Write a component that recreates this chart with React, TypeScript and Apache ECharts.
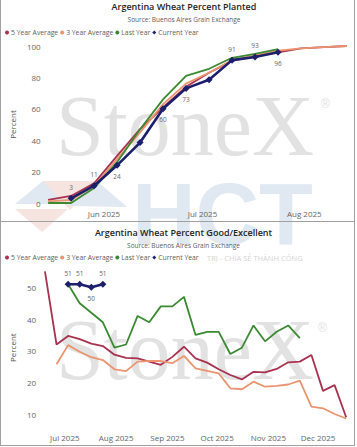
import React, { useEffect, useRef } from "react";
import * as echarts from "echarts";

// ---------- Data: Percent Planted ----------
const plantedWeeks = [
  "2025-05-15", "2025-05-22", "2025-05-29", "2025-06-05", "2025-06-12", "2025-06-19", "2025-06-26",
  "2025-07-03", "2025-07-10", "2025-07-17", "2025-07-24", "2025-07-31", "2025-08-07", "2025-08-14",
];
const planted5yr = [2, 4.5, 12.5, 30, 47, 61, 74, 83, 90.5, 93.5, 96, 98.5, 99.3, 100];
const planted3yr = [1, 2, 11, 28, 45, 63, 76, 83, 91, 94, 97, 98.5, 99.3, 100];
const plantedLast = [0, 0, 9.5, 26, 47, 66, 81, 85.5, 92.5, 95, 98];
const plantedCurrent = [null, 3, 11, 24, 38.5, 60, 73, 78.5, 91, 93, 96];
const plantedTicks = [0, 20, 40, 60, 80, 100];
const plantedMonths = ["2025-06-01", "2025-07-01", "2025-08-01"];

// ---------- Data: Percent Good/Excellent ----------
const conditionWeeks = [
  "2025-06-19", "2025-06-26", "2025-07-03", "2025-07-10", "2025-07-17", "2025-07-24", "2025-07-31",
  "2025-08-07", "2025-08-14", "2025-08-21", "2025-08-28", "2025-09-04", "2025-09-11", "2025-09-18",
  "2025-09-25", "2025-10-02", "2025-10-09", "2025-10-16", "2025-10-23", "2025-10-30", "2025-11-06",
  "2025-11-13", "2025-11-20", "2025-11-27", "2025-12-04", "2025-12-11", "2025-12-18",
];
const condition5yr = [55, 32, 34.7, 33.7, 32.3, 31.5, 28.8, 27.8, 27.6, 26.6, 25.6, 28.1, 31.3, 27.6,
  26.3, 24.2, 22.4, 21.0, 23.4, 23.2, 24.3, 26.4, 26.6, 28.7, 17.4, 19.2, 9.1];
const condition3yr = [null, 25.8, 31.8, 29.7, 28.0, 27.1, 24.2, 23.6, 26.6, 26.8, 26.8, 26.1, 28.4, 24.5,
  23.7, 22.9, 18.2, 17.9, 20.3, 18.7, 19.0, 19.4, 20.6, 12.4, 11.9, 10.1, 8.7];
const conditionLast = [null, null, 51, 45, 42, 39, 31, 32, 41, 39, 44, 44, 47, 35, 36, 36, 29, 31, 38, 33,
  36, 38, 34];
const conditionCurrent = [null, null, 51, 51, 50, 51];
const conditionTicks = [10, 20, 30, 40, 50];
const conditionMonths = ["2025-07-01", "2025-08-01", "2025-09-01", "2025-10-01", "2025-11-01", "2025-12-01"];

const seriesNames = ["5 Year Average", "3 Year Average", "Last Year", "Current Year"];

// label placement for current-year points (style)
const plantedCurLabelPos = [null, "top", "top", "bottom", null, "bottom", "bottom", null, "top", "top", "bottom"];
const conditionCurLabelPos = [null, null, "top", "top", "bottom", "top"];

const COLORS = ["#a8324f", "#ea9470", "#3b8a33", "#1c1f6b"];
const FONT = "'Open Sans', 'Noto Sans', sans-serif";
const MONTHS = ["Jan", "Feb", "Mar", "Apr", "May", "Jun", "Jul", "Aug", "Sep", "Oct", "Nov", "Dec"];
const DAY = 86400000;

function ts(s: string) {
  const [y, m, d] = s.split("-").map(Number);
  return Date.UTC(y, m - 1, d);
}
function pairs(dates: string[], vals: (number | null)[]) {
  const out: any[] = [];
  vals.forEach((v, i) => {
    if (v != null) out.push([ts(dates[i]), v]);
  });
  return out;
}
function labeledPairs(dates: string[], vals: (number | null)[], pos: (string | null)[]) {
  const out: any[] = [];
  vals.forEach((v, i) => {
    if (v != null)
      out.push({
        value: [ts(dates[i]), v],
        label: { show: !!pos[i], position: pos[i] || "top" },
      });
  });
  return out;
}

export default function App() {
  const ref = useRef<HTMLDivElement>(null);
  useEffect(() => {
    if (!ref.current) return;
    const chart = echarts.init(ref.current, null, { renderer: "svg" });

    // axis spans (pixel anchors of month labels)
    const k1 = (303 - 97) / 61;
    const L1 = 36, R1 = 350;
    const min1 = ts("2025-06-01") - ((97 - L1) / k1) * DAY;
    const max1 = ts("2025-08-01") + ((R1 - 303) / k1) * DAY;
    const k2 = (317.3 - 58.3) / 153;
    const L2 = 34, R2 = 350;
    const min2 = ts("2025-07-01") - ((58.3 - L2) / k2) * DAY;
    const max2 = ts("2025-12-01") + ((R2 - 317.3) / k2) * DAY;

    const fmtMonth = (v: number) => {
      const d = new Date(v);
      return `${MONTHS[d.getUTCMonth()]} ${d.getUTCFullYear()}`;
    };

    const xAxisBase = {
      type: "value",
      scale: true,
      axisLine: { show: false },
      axisTick: { show: false },
      splitLine: { show: false },
    };
    const yAxisBase = {
      type: "value",
      axisLine: { show: false },
      axisTick: { show: false },
      splitLine: { show: false },
      name: "Percent",
      nameLocation: "middle",
      nameTextStyle: { fontSize: 8, color: "#555", fontFamily: FONT },
    };

    const lineSeries = (name: string, color: string, data: any[], idx: number, width = 1.8) => ({
      name,
      type: "line",
      xAxisIndex: idx,
      yAxisIndex: idx,
      data,
      showSymbol: false,
      symbol: "none",
      lineStyle: { color, width },
      itemStyle: { color },
      z: 3,
    });
    const currentSeries = (data: any[], idx: number) => ({
      name: "Current Year",
      type: "line",
      xAxisIndex: idx,
      yAxisIndex: idx,
      data,
      symbol: "diamond",
      symbolSize: 7,
      lineStyle: { color: COLORS[3], width: 2.6 },
      itemStyle: { color: COLORS[3] },
      label: { fontSize: 6.5, color: "#666", distance: 4, fontFamily: FONT },
      z: 5,
    });

    const legendBase = (top: number) => ({
      left: 5,
      top,
      padding: 0,
      itemWidth: 4,
      itemHeight: 4,
      itemGap: 2,
      textStyle: { fontSize: 6.8, color: "#605e5c", fontFamily: FONT, padding: [0, 0, 0, -3] },
      data: [
        { name: seriesNames[0], icon: "circle" },
        { name: seriesNames[1], icon: "circle" },
        { name: seriesNames[2], icon: "circle" },
        { name: seriesNames[3], icon: "diamond" },
      ],
    });

    const wm = "#e2e2e2";
    const wmBlue = "#e0e8f2";
    const wmPink = "#f6e4e1";
    const option: any = {
      animation: false,
      backgroundColor: "#ffffff",
      legend: [legendBase(29), legendBase(254)],
      grid: [
        { left: L1, top: 46, width: R1 - L1, height: 157 },
        { left: L2, top: 268.3, width: R2 - L2, height: 158.75 },
      ],
      xAxis: [
        {
          ...xAxisBase,
          gridIndex: 0,
          min: min1,
          max: max1,
          axisLabel: {
            customValues: plantedMonths.map(ts),
            formatter: fmtMonth,
            fontSize: 8,
            color: "#666",
            margin: 6,
            fontFamily: FONT,
          },
        },
        {
          ...xAxisBase,
          gridIndex: 1,
          min: min2,
          max: max2,
          axisLabel: {
            customValues: conditionMonths.map(ts),
            formatter: fmtMonth,
            fontSize: 8,
            color: "#666",
            margin: 6,
            fontFamily: FONT,
          },
        },
      ],
      yAxis: [
        {
          ...yAxisBase,
          gridIndex: 0,
          min: 0,
          max: 100,
          nameGap: 24,
          axisLabel: { customValues: plantedTicks, fontSize: 8, color: "#666", margin: 4, fontFamily: FONT },
        },
        {
          ...yAxisBase,
          gridIndex: 1,
          min: 6,
          max: 56,
          nameGap: 24,
          axisLabel: {
            customValues: conditionTicks,
            fontSize: 8,
            color: "#666",
            margin: 5,
            fontFamily: FONT,
          },
        },
      ],
      series: [
        lineSeries(seriesNames[0], COLORS[0], pairs(plantedWeeks, planted5yr), 0),
        lineSeries(seriesNames[1], COLORS[1], pairs(plantedWeeks, planted3yr), 0),
        lineSeries(seriesNames[2], COLORS[2], pairs(plantedWeeks, plantedLast), 0),
        currentSeries(labeledPairs(plantedWeeks, plantedCurrent, plantedCurLabelPos), 0),
        lineSeries(seriesNames[0], COLORS[0], pairs(conditionWeeks, condition5yr), 1),
        lineSeries(seriesNames[1], COLORS[1], pairs(conditionWeeks, condition3yr), 1),
        lineSeries(seriesNames[2], COLORS[2], pairs(conditionWeeks, conditionLast), 1),
        currentSeries(labeledPairs(conditionWeeks, conditionCurrent, conditionCurLabelPos), 1),
      ],
      graphic: [
        // watermarks
        { type: "polygon", z: -5, shape: { points: [[15, 204], [43, 181], [68, 204]] }, style: { fill: wmBlue } },
        { type: "polygon", z: -5, shape: { points: [[43, 181], [97, 181], [70, 210]] }, style: { fill: wmPink } },
        { type: "polygon", z: -5, shape: { points: [[68, 206], [97, 181], [127, 207]] }, style: { fill: wmBlue } },
        { type: "polygon", z: -5, shape: { points: [[15, 209], [68, 209], [42, 232]] }, style: { fill: wmPink } },
        {
          type: "text", z: -5, x: 132, y: 213,
          style: { text: "HCT", fontSize: 88, fontWeight: "bold", fontFamily: "'Liberation Sans', sans-serif", fill: wmBlue, textVerticalAlign: "middle" },
        },
        {
          type: "text", z: -4, x: 56, y: 126,
          style: { text: "StoneX", fontSize: 86, fontFamily: "'Liberation Serif', serif", fill: wm, textVerticalAlign: "middle" },
        },
        { type: "text", z: -4, x: 321, y: 104, style: { text: "®", fontSize: 12, fill: wm, textVerticalAlign: "middle" } },
        {
          type: "text", z: -4, x: 56, y: 350,
          style: { text: "StoneX", fontSize: 86, fontFamily: "'Liberation Serif', serif", fill: wm, textVerticalAlign: "middle" },
        },
        { type: "text", z: -4, x: 318, y: 328, style: { text: "®", fontSize: 12, fill: wm, textVerticalAlign: "middle" } },
        {
          type: "text", z: -4, x: 207, y: 258,
          style: { text: "TRỊ - CHIA SẺ THÀNH CÔNG", fontSize: 7.5, fontFamily: FONT, fill: "#d4d4d4", textVerticalAlign: "middle" },
        },
        // titles
        {
          type: "text", z: 10, x: 184, y: 6.5,
          style: { text: "Argentina Wheat Percent Planted", fontSize: 9, fontWeight: 600, fontFamily: FONT, fill: "#252423", textAlign: "center", textVerticalAlign: "middle" },
        },
        {
          type: "text", z: 10, x: 184, y: 19,
          style: { text: "Source: Buenos Aires Grain Exchange", fontSize: 6.5, fontFamily: FONT, fill: "#605e5c", textAlign: "center", textVerticalAlign: "middle" },
        },
        {
          type: "text", z: 10, x: 183.5, y: 232,
          style: { text: "Argentina Wheat Percent Good/Excellent", fontSize: 9, fontWeight: 600, fontFamily: FONT, fill: "#252423", textAlign: "center", textVerticalAlign: "middle" },
        },
        {
          type: "text", z: 10, x: 183.5, y: 245.5,
          style: { text: "Source: Buenos Aires Grain Exchange", fontSize: 6.5, fontFamily: FONT, fill: "#605e5c", textAlign: "center", textVerticalAlign: "middle" },
        },
        // panel borders
        { type: "line", z: 10, shape: { x1: 0.5, y1: 0, x2: 0.5, y2: 446 }, style: { stroke: "#a0a0a0", lineWidth: 1 } },
        { type: "line", z: 10, shape: { x1: 354.5, y1: 0, x2: 354.5, y2: 446 }, style: { stroke: "#a0a0a0", lineWidth: 1 } },
        { type: "line", z: 10, shape: { x1: 0, y1: 221.5, x2: 355, y2: 221.5 }, style: { stroke: "#a0a0a0", lineWidth: 1 } },
        { type: "line", z: 10, shape: { x1: 0, y1: 445.5, x2: 355, y2: 445.5 }, style: { stroke: "#a0a0a0", lineWidth: 1 } },
      ],
    };
    chart.setOption(option);
    return () => chart.dispose();
  }, []);
  return (
    <div
      ref={ref}
      style={{ position: "absolute", left: 0, top: 0, width: 357, height: 447, background: "#fff" }}
    />
  );
}
